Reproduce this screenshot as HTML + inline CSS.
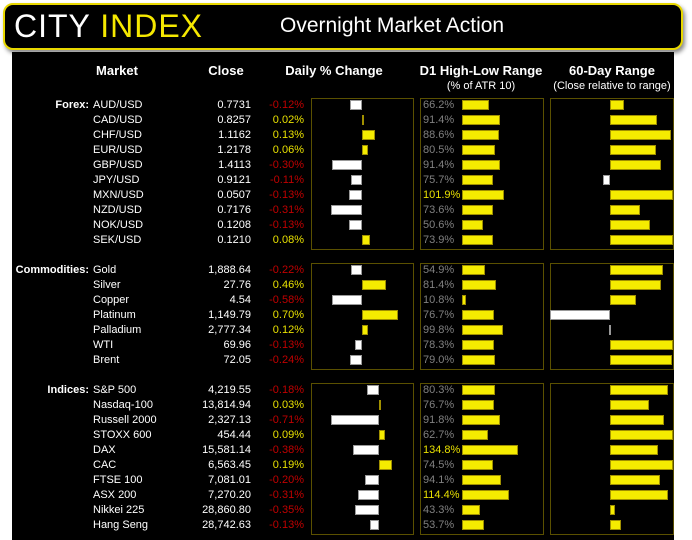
<!DOCTYPE html><html><head><style>
body{margin:0;width:692px;height:540px;background:#fff;position:relative;overflow:hidden;font-family:"Liberation Sans",sans-serif}
.a{position:absolute}
#hdr{left:3px;top:3px;width:676px;height:43px;background:#000;border:2px solid #e8d800;border-radius:10px;box-shadow:2px 3px 4px #888}
#tb{left:12px;top:52px;width:662px;height:488px;background:#000}
.t{position:absolute;font-size:11px;color:#fff;white-space:nowrap;line-height:13px}
.box{position:absolute;border:1px solid #5a5000}
.bar{position:absolute;height:10px;box-sizing:border-box}
</style></head><body>
<div id="hdr" class="a"></div>
<div class="a" style="left:14px;top:6px;font-size:32px;color:#fff;letter-spacing:1px;line-height:40px">CITY <span style="color:#f5e800">INDEX</span></div>
<div class="a" style="left:280px;top:13px;font-size:21px;color:#fff;line-height:26px">Overnight Market Action</div>
<div id="tb" class="a"></div>
<div id="c"></div>
<script>
var c=document.getElementById('c'),h='';
function T(x,y,s,st){h+='<div class="t" style="left:'+x+'px;top:'+(y-6)+'px;'+(st||'')+'">'+s+'</div>';}
function R(x,y,s,st){h+='<div class="t" style="right:'+(692-x)+'px;top:'+(y-6)+'px;'+(st||'')+'">'+s+'</div>';}
function C(x,y,s,st){h+='<div class="t" style="left:'+(x-100)+'px;width:200px;text-align:center;top:'+(y-6)+'px;'+(st||'')+'">'+s+'</div>';}
function B(x1,x2,y,col){var l=Math.min(x1,x2),w=Math.max(1,Math.abs(x2-x1));h+='<div class="bar" style="left:'+l+'px;top:'+(y-5)+'px;width:'+w+'px;background:'+(col?'#f5ec00':'#fff')+';border:1px solid '+(col?'#a09000':'#999')+'"></div>';}
C(117,70,'Market','font-weight:bold;font-size:13px');C(226,70,'Close','font-weight:bold;font-size:13px');
C(334,70,'Daily % Change','font-weight:bold;font-size:13px');C(481,70,'D1 High-Low Range','font-weight:bold;font-size:13px');
C(612,70,'60-Day Range','font-weight:bold;font-size:13px');C(481,86,'(% of ATR 10)');C(612,86,'(Close relative to range)');
var G=[
 ['Forex:',105,98,248,362,100,[
 ['AUD/USD','0.7731',-0.12,66.2,624],['CAD/USD','0.8257',0.02,91.4,657],['CHF/USD','1.1162',0.13,88.6,671],['EUR/USD','1.2178',0.06,80.5,656],['GBP/USD','1.4113',-0.30,91.4,661],['JPY/USD','0.9121',-0.11,75.7,603],['MXN/USD','0.0507',-0.13,101.9,673],['NZD/USD','0.7176',-0.31,73.6,640],['NOK/USD','0.1208',-0.13,50.6,650],['SEK/USD','0.1210',0.08,73.9,673]]],
 ['Commodities:',270,263,368,362,52,[
 ['Gold','1,888.64',-0.22,54.9,663],['Silver','27.76',0.46,81.4,661],['Copper','4.54',-0.58,10.8,636],['Platinum','1,149.79',0.70,76.7,550],['Palladium','2,777.34',0.12,99.8,609],['WTI','69.96',-0.13,78.3,673],['Brent','72.05',-0.24,79.0,672]]],
 ['Indices:',390,383,533,379,68,[
 ['S&amp;P 500','4,219.55',-0.18,80.3,668],['Nasdaq-100','13,814.94',0.03,76.7,649],['Russell 2000','2,327.13',-0.71,91.8,664],['STOXX 600','454.44',0.09,62.7,673],['DAX','15,581.14',-0.38,134.8,658],['CAC','6,563.45',0.19,74.5,673],['FTSE 100','7,081.01',-0.20,94.1,660],['ASX 200','7,270.20',-0.31,114.4,668],['Nikkei 225','28,860.80',-0.35,43.3,615],['Hang Seng','28,742.63',-0.13,53.7,621]]]];
G.forEach(function(g){
 h+='<div class="box" style="left:311px;top:'+g[2]+'px;width:101px;height:'+(g[3]-g[2])+'px"></div>';
 h+='<div class="box" style="left:420px;top:'+g[2]+'px;width:122px;height:'+(g[3]-g[2])+'px"></div>';
 h+='<div class="box" style="left:550px;top:'+g[2]+'px;width:122px;height:'+(g[3]-g[2])+'px"></div>';
 R(89,g[1],g[0],'font-weight:bold');
 g[6].forEach(function(r,i){var y=g[1]+i*15;
  T(93,y,r[0]);R(251,y,r[1]);
  var p=(r[2]>0?'':'-')+Math.abs(r[2]).toFixed(2)+'%';R(304,y,p,'color:'+(r[2]<0?'#c00000':'#e8e000'));
  B(g[4],g[4]+r[2]*g[5],y,r[2]>0);
  T(423,y,r[3].toFixed(1)+'%','color:'+(r[3]>100?'#e8e000':'#808080'));
  B(462,462+r[3]*0.415,y,true);
  B(610,r[4],y,r[4]>610);
 });
});
c.innerHTML=h;
</script></body></html>
